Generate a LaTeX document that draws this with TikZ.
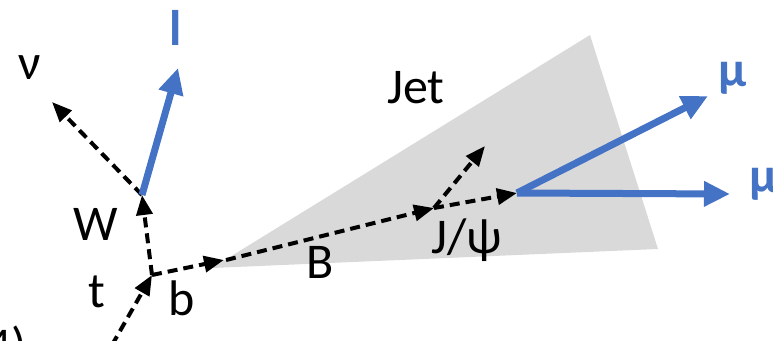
\documentclass[tikz,border=0pt]{standalone}
\usepackage{fontspec}
\setmainfont{Carlito}
\usetikzlibrary{arrows.meta}
\definecolor{lepblue}{HTML}{4472C4}
\definecolor{jetgray}{HTML}{D9D9D9}

\begin{document}
\begin{tikzpicture}[x=1pt, y=-1pt,
    tracklbl/.style={font=\fontsize{50}{56}\selectfont, inner sep=0pt},
    leplbl/.style={font=\fontsize{50}{56}\selectfont\bfseries, text=lepblue, inner sep=0pt},
    dashtrk/.style={line width=4pt, dash pattern=on 10pt off 6pt,
        -{Triangle[length=20pt, width=16pt]}},
    leptrk/.style={line width=7pt, lepblue,
        -{Triangle[length=26pt, width=24pt]}}]
    \useasboundingbox (0,0) rectangle (773,340);

    % 1. Jet-Kegel (grau)
    \fill[jetgray] (212,268) -- (590,35) -- (658,249) -- cycle;

    % 2. Vertices
    \coordinate (tin) at (112,345);
    \coordinate (tvx) at (152,275);
    \coordinate (wvx) at (142,195);
    \coordinate (bend) at (224,260);
    \coordinate (bvx) at (226,260);
    \coordinate (jvx) at (434,208);
    \coordinate (muvx) at (517,193);
    \coordinate (nuend) at (52,102);
    \coordinate (lend) at (178,68);
    \coordinate (xend) at (485,146);
    \coordinate (muend1) at (708,96);
    \coordinate (muend2) at (730,194);

    % 3. gestrichelte Spuren
    \draw[dashtrk] (tin) -- (tvx);
    \draw[dashtrk] (tvx) -- (wvx);
    \draw[dashtrk] (tvx) -- (bend);
    \draw[dashtrk] (bvx) -- (jvx);
    \draw[dashtrk] (jvx) -- (muvx);
    \draw[dashtrk] (jvx) -- (xend);
    \draw[dashtrk] (wvx) -- (nuend);

    % 4. Leptonen (blau)
    \draw[leptrk] (wvx) -- (lend);
    \draw[leptrk] (muvx) -- (muend1);
    \draw[leptrk] (muvx) -- (muend2);

    % 5. Beschriftungen
    \node[tracklbl] (nulbl) at (30,68) {ν};
    \node[leplbl] (llbl) at (176,28) {l};
    \node[tracklbl] (wlbl) at (96,224) {W};
    \node[tracklbl] (tlbl) at (97,292) {t};
    \node[tracklbl] (blbl) at (182,298) {b};
    \node[tracklbl] (Blbl) at (320,262) {B};
    \node[tracklbl] (jpsilbl) at (467,240) {J/ψ};
    \node[tracklbl] (jetlbl) at (416,88) {Jet};
    \node[leplbl] (mulbl1) at (733,78) {μ};
    \node[leplbl] (mulbl2) at (764,184) {μ};
    \node[tracklbl, anchor=north east] (taglbl) at (27,326) {(4)};
\end{tikzpicture}
\end{document}
